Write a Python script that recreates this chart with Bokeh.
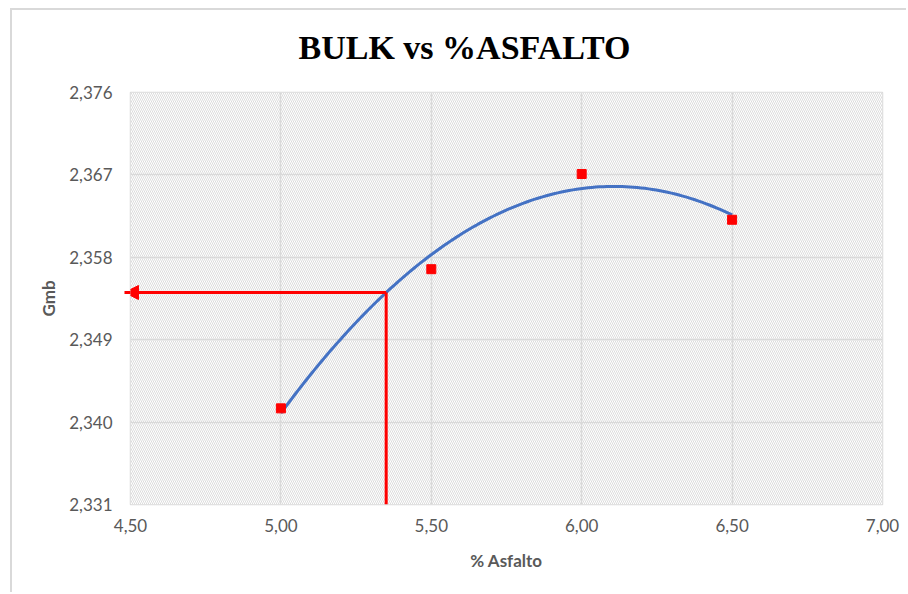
import numpy as np
from bokeh.plotting import figure
from bokeh.models import FixedTicker, CustomJSTickFormatter, Arrow, NormalHead, Range1d
from bokeh.embed import file_html
from bokeh.resources import INLINE

# Bulk specific gravity (Gmb) for each asphalt content
asfalto = [5.00, 5.50, 6.00, 6.50]
gmb = [2.3415, 2.3567, 2.3671, 2.3621]

x_ticks = [4.50, 5.00, 5.50, 6.00, 6.50, 7.00]
y_ticks = [2.331, 2.340, 2.349, 2.358, 2.367, 2.376]

# design asphalt content read on the trend curve
asfalto_optimo = 5.35
flecha_x_fin = 4.48

# second-order polynomial trend line
coef = np.polyfit(asfalto, gmb, 2)
xs = np.linspace(min(asfalto), max(asfalto), 120)
ys = np.polyval(coef, xs)
gmb_optimo = float(np.polyval(coef, asfalto_optimo))

GRAY = "#d9d9d9"
TEXT = "#595959"

# the chart box sits 10px in from the left and 8px down, with a 2px border
p = figure(width=896, height=584, output_backend="svg", toolbar_location=None,
           x_range=Range1d(x_ticks[0], x_ticks[-1]),
           y_range=Range1d(y_ticks[0], y_ticks[-1]),
           min_border_left=118, min_border_right=26,
           min_border_top=82, min_border_bottom=90)
p.styles = {"margin-left": "10px", "margin-top": "8px",
            "border-left": f"2px solid {GRAY}", "border-top": f"2px solid {GRAY}"}

p.title.text = "BULK vs %ASFALTO"
p.title.align = "left"
p.title.offset = 168
p.title.vertical_align = "top"
p.title.standoff = 0
p.title.padding = (0, 0, 0, 25)   # extra space below the title text
p.title.text_font = "Liberation Serif"
p.title.text_font_style = "bold"
p.title.text_font_size = "34px"
p.title.text_color = "black"

p.background_fill_color = "white"
p.border_fill_color = "white"
p.outline_line_color = GRAY
p.outline_line_width = 1.5

# hatched plot area
bg = p.quad(left=[x_ticks[0]], right=[x_ticks[-1]], bottom=[y_ticks[0]], top=[y_ticks[-1]],
            fill_color="white", line_color=None,
            hatch_pattern="left_diagonal_line", hatch_color="#dcdcdc",
            hatch_scale=4, hatch_weight=1)
bg.level = "image"

for g in (p.xgrid, p.ygrid):
    g.grid_line_color = GRAY
    g.grid_line_width = 1.5
p.xgrid.ticker = FixedTicker(ticks=x_ticks)
p.ygrid.ticker = FixedTicker(ticks=y_ticks)

p.xaxis.ticker = FixedTicker(ticks=x_ticks)
p.yaxis.ticker = FixedTicker(ticks=y_ticks)
p.xaxis.formatter = CustomJSTickFormatter(code="return tick.toFixed(2).replace('.', ',');")
p.yaxis.formatter = CustomJSTickFormatter(code="return tick.toFixed(3).replace('.', ',');")

for ax in (p.xaxis[0], p.yaxis[0]):
    ax.axis_line_color = None
    ax.major_tick_line_color = None
    ax.minor_tick_line_color = None
    ax.major_tick_in = 0
    ax.major_tick_out = 0
    ax.minor_tick_in = 0
    ax.minor_tick_out = 0
    ax.major_label_text_font = "Lato"
    ax.major_label_text_font_size = "17px"
    ax.major_label_text_color = TEXT
    ax.axis_label_text_font = "Lato"
    ax.axis_label_text_font_style = "bold"
    ax.axis_label_text_font_size = "17px"
    ax.axis_label_text_color = TEXT

p.xaxis.axis_label = "% Asfalto"
p.yaxis.axis_label = "Gmb"
p.xaxis.major_label_standoff = 14
p.yaxis.major_label_standoff = 18
p.xaxis.axis_label_standoff = 15
p.yaxis.axis_label_standoff = 7

# trend curve and measured points
p.line(xs, ys, line_color="#4472C4", line_width=3)
p.scatter(asfalto, gmb, marker="square", size=9, fill_color="#ff0000", line_color="#ff0000")

# reading lines for the design asphalt content
p.add_layout(Arrow(end=NormalHead(size=14, fill_color="#ff0000", line_color="#ff0000"),
                   x_start=asfalto_optimo, y_start=gmb_optimo,
                   x_end=flecha_x_fin, y_end=gmb_optimo,
                   line_color="#ff0000", line_width=3))
p.add_layout(Arrow(end=None,
                   x_start=asfalto_optimo, y_start=gmb_optimo,
                   x_end=asfalto_optimo, y_end=y_ticks[0],
                   line_color="#ff0000", line_width=3))

open("out.html", "w").write(file_html(p, INLINE))
